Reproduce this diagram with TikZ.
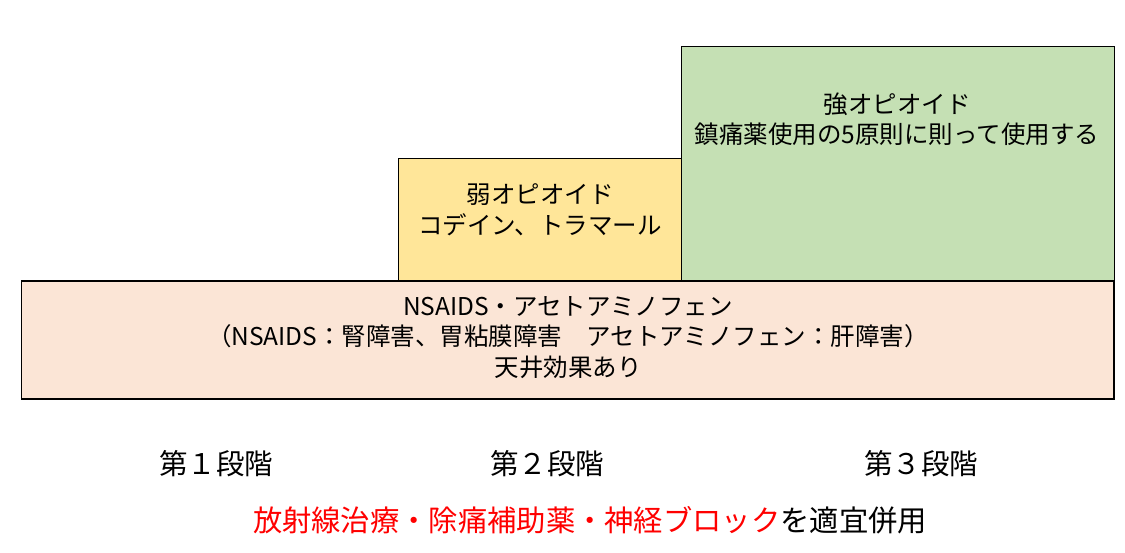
\documentclass[tikz,border=0pt]{standalone}
\usepackage{fontspec}
\setmainfont{Noto Sans CJK JP}
\definecolor{peach}{HTML}{FBE5D6}
\definecolor{yellowbox}{HTML}{FFE699}
\definecolor{greenbox}{HTML}{C5E0B4}
\definecolor{redtext}{HTML}{FF0000}
\begin{document}
\begin{tikzpicture}[x=1pt,y=-1pt,
  stage/.style={draw=black,line width=1.3pt,anchor=north west,inner sep=0pt,outer sep=0pt},
  boxtext/.style={inner sep=0pt,align=center,font=\fontsize{24.5}{30.5}\selectfont},
  steplabel/.style={inner sep=0pt,font=\fontsize{28.5}{32}\selectfont},
  note/.style={inner sep=0pt,font=\fontsize{29.3}{32}\selectfont}]
\useasboundingbox (0,0) rectangle (1125,552);
\node[stage,fill=yellowbox,minimum width=283,minimum height=123] (s2) at (398.5,158.5) {};
\node[stage,fill=greenbox,minimum width=433,minimum height=235] (s3) at (681.5,46.5) {};
\node[stage,fill=peach,minimum width=1092.5,minimum height=118] (s1) at (21.5,281) {};
\node[boxtext] (t3) at (897,119) {強オピオイド\\鎮痛薬使用の5原則に則って使用する};
\node[boxtext] (t2) at (540,210) {弱オピオイド\\コデイン、トラマール};
\node[boxtext] (t1) at (568,337.5) {NSAIDS・アセトアミノフェン\\（NSAIDS：腎障害、胃粘膜障害　アセトアミノフェン：肝障害）\\天井効果あり};
\node[steplabel] (l1) at (216,464) {第１段階};
\node[steplabel] (l2) at (547,464) {第２段階};
\node[steplabel] (l3) at (921,464) {第３段階};
\node[note] (n) at (590,520) {{\color{redtext}放射線治療・除痛補助薬・神経ブロック}を適宜併用};
\end{tikzpicture}
\end{document}
